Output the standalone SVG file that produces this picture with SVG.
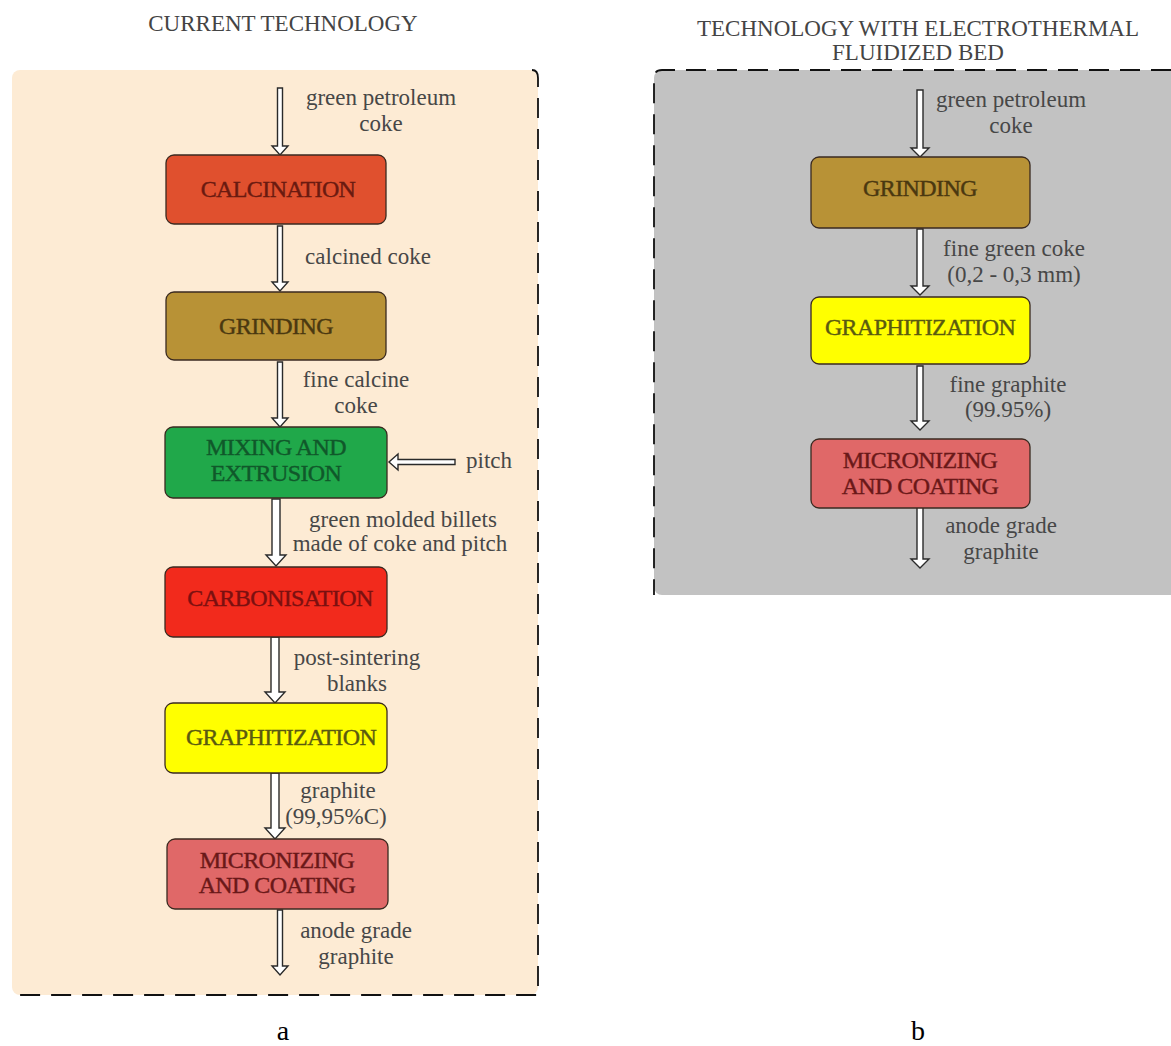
<svg xmlns="http://www.w3.org/2000/svg" width="1171" height="1046" viewBox="0 0 1171 1046">
<style>
.title{font-family:"Liberation Serif","Times New Roman",serif;font-size:23px;fill:#444;text-anchor:middle}
.lbl{font-family:"Liberation Serif","Times New Roman",serif;font-size:23px;fill:#474747;text-anchor:middle}
.ntxt{font-family:"Liberation Serif","Times New Roman",serif;font-size:24px;letter-spacing:-0.6px;text-anchor:middle;stroke-width:0.4}
.node{stroke:#3a2a20;stroke-width:1.3}
.arrow{fill:#fff;stroke:#2a2a2a;stroke-width:1.4;stroke-linejoin:miter}
.dash{fill:none;stroke:#111;stroke-width:1.8;stroke-dasharray:20 11}
.sub{font-family:"Liberation Serif","Times New Roman",serif;font-size:28px;fill:#000;text-anchor:middle}
</style>

<!-- Panels -->
<g id="panel-a">
<rect x="12" y="70" width="526" height="925" rx="8" fill="#fdebd4"/>
<path class="dash" d="M532,70 Q538,70 538,78 L538,995 L12,995"/>
</g>
<g id="panel-b">
<rect x="654" y="70" width="530" height="525" rx="8" fill="#c2c2c2"/>
<path class="dash" d="M1171,70 L662,70 Q654,70 654,78 L654,595"/>
</g>

<text class="title" x="283" y="31">CURRENT TECHNOLOGY</text>
<text class="title" x="918" y="36">TECHNOLOGY WITH ELECTROTHERMAL</text>
<text class="title" x="918" y="60">FLUIDIZED BED</text>

<!-- Connectors -->
<g id="connectors">
<!-- left -->
<path class="arrow" d="M277.5,88 L282.5,88 L282.5,146 L288,146 L280,155 L272,146 L277.5,146 Z"/>
<path class="arrow" d="M277.5,226 L282.5,226 L282.5,282 L288,282 L280,291 L272,282 L277.5,282 Z"/>
<path class="arrow" d="M277.5,362 L282.5,362 L282.5,418 L288,418 L280,427 L272,418 L277.5,418 Z"/>
<path class="arrow" d="M455,459.5 L455,464.5 L398,464.5 L398,470 L389,462 L398,454 L398,459.5 Z"/>
<path class="arrow" d="M272,499 L280,499 L280,555 L286,555 L276,566 L266,555 L272,555 Z"/>
<path class="arrow" d="M271,637 L279,637 L279,692 L285,692 L275,703 L265,692 L271,692 Z"/>
<path class="arrow" d="M271,773 L279,773 L279,828 L285,828 L275,839 L265,828 L271,828 Z"/>
<path class="arrow" d="M277.5,910 L282.5,910 L282.5,966 L288,966 L280,975 L272,966 L277.5,966 Z"/>
<!-- right -->
<path class="arrow" d="M917,90 L923,90 L923,148 L929,148 L920,157 L911,148 L917,148 Z"/>
<path class="arrow" d="M917,229 L923,229 L923,286 L929,286 L920,295 L911,286 L917,286 Z"/>
<path class="arrow" d="M917,366 L923,366 L923,421 L929,421 L920,430 L911,421 L917,421 Z"/>
<path class="arrow" d="M917,503 L923,503 L923,559 L929,559 L920,568 L911,559 L917,559 Z"/>
</g>

<!-- Connector labels -->
<g id="labels">
<text class="lbl" x="381" y="105">green petroleum</text>
<text class="lbl" x="381" y="131">coke</text>
<text class="lbl" x="368" y="264">calcined coke</text>
<text class="lbl" x="356" y="387">fine calcine</text>
<text class="lbl" x="356" y="413">coke</text>
<text class="lbl" x="489" y="468">pitch</text>
<text class="lbl" x="403" y="527">green molded billets</text>
<text class="lbl" x="400" y="551">made of coke and pitch</text>
<text class="lbl" x="357" y="665">post-sintering</text>
<text class="lbl" x="357" y="691">blanks</text>
<text class="lbl" x="338" y="798">graphite</text>
<text class="lbl" x="336" y="824">(99,95%C)</text>
<text class="lbl" x="356" y="938">anode grade</text>
<text class="lbl" x="356" y="964">graphite</text>

<text class="lbl" x="1011" y="107">green petroleum</text>
<text class="lbl" x="1011" y="133">coke</text>
<text class="lbl" x="1014" y="256">fine green coke</text>
<text class="lbl" x="1014" y="282">(0,2 - 0,3 mm)</text>
<text class="lbl" x="1008" y="392">fine graphite</text>
<text class="lbl" x="1008" y="417">(99.95%)</text>
<text class="lbl" x="1001" y="533">anode grade</text>
<text class="lbl" x="1001" y="559">graphite</text>
</g>

<!-- Left nodes -->
<g id="a-calcination">
<rect class="node" x="166" y="155" width="220" height="69" rx="8" fill="#e0502e"/>
<text class="ntxt" x="278" y="197" fill="#6a1a10" stroke="#6a1a10">CALCINATION</text>
</g>
<g id="a-grinding">
<rect class="node" x="166" y="292" width="220" height="68" rx="8" fill="#b89236"/>
<text class="ntxt" x="276" y="334" fill="#4a3810" stroke="#4a3810">GRINDING</text>
</g>
<g id="a-mixing">
<rect class="node" x="165" y="427" width="222" height="71" rx="8" fill="#20a84a"/>
<text class="ntxt" x="276" y="455" fill="#10582a" stroke="#10582a">MIXING AND</text>
<text class="ntxt" x="276" y="481" fill="#10582a" stroke="#10582a">EXTRUSION</text>
</g>
<g id="a-carbonisation">
<rect class="node" x="165" y="567" width="222" height="70" rx="8" fill="#f22a1c"/>
<text class="ntxt" x="280" y="606" fill="#7a1010" stroke="#7a1010">CARBONISATION</text>
</g>
<g id="a-graphitization">
<rect class="node" x="165" y="703" width="222" height="70" rx="8" fill="#ffff00"/>
<text class="ntxt" x="281" y="745" fill="#5a5a10" stroke="#5a5a10">GRAPHITIZATION</text>
</g>
<g id="a-micronizing">
<rect class="node" x="167" y="839" width="221" height="70" rx="8" fill="#e06868"/>
<text class="ntxt" x="277" y="868" fill="#6a1818" stroke="#6a1818">MICRONIZING</text>
<text class="ntxt" x="277" y="893" fill="#6a1818" stroke="#6a1818">AND COATING</text>
</g>

<!-- Right nodes -->
<g id="b-grinding">
<rect class="node" x="811" y="157" width="219" height="71" rx="8" fill="#b89236"/>
<text class="ntxt" x="920" y="196" fill="#4a3810" stroke="#4a3810">GRINDING</text>
</g>
<g id="b-graphitization">
<rect class="node" x="811" y="297" width="219" height="67" rx="8" fill="#ffff00"/>
<text class="ntxt" x="920" y="335" fill="#5a5a10" stroke="#5a5a10">GRAPHITIZATION</text>
</g>
<g id="b-micronizing">
<rect class="node" x="811" y="439" width="219" height="69" rx="8" fill="#e06868"/>
<text class="ntxt" x="920" y="468" fill="#6a1818" stroke="#6a1818">MICRONIZING</text>
<text class="ntxt" x="920" y="494" fill="#6a1818" stroke="#6a1818">AND COATING</text>
</g>

<text class="sub" x="283" y="1040">a</text>
<text class="sub" x="918" y="1040">b</text>
</svg>
